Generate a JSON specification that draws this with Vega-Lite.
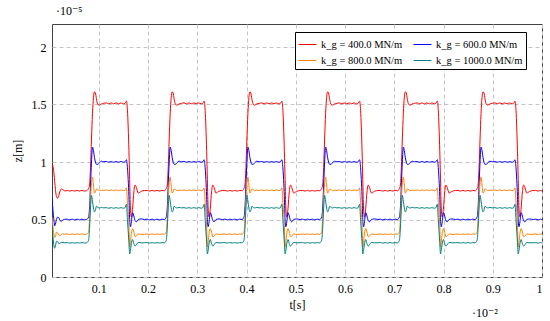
{
"$schema": "https://vega.github.io/schema/vega-lite/v6.json",
"width": 490, "height": 253,
"autosize": {"type": "none"},
"padding": {"left": 52, "top": 24, "right": 8, "bottom": 44},
"background": "white",
"config": {"font": "'Liberation Serif', 'DejaVu Serif', serif", "view": {"stroke": "#404040", "strokeWidth": 1}},
"title": {"text": "·10⁻⁵", "anchor": "start", "frame": "group", "fontSize": 12, "fontWeight": "normal", "font": "'Liberation Serif', 'DejaVu Serif', serif", "offset": 6, "dx": 4},
"datasets": {
"sim": [
{"t":0.05e-3,"400":0.99e-5,"600":0.68e-5,"800":0.52e-5,"1000":0.45e-5},
{"t":0.07e-3,"400":0.96e-5,"600":0.58e-5,"800":0.44e-5,"1000":0.35e-5},
{"t":0.09e-3,"400":0.90e-5,"600":0.49e-5,"800":0.37e-5,"1000":0.27e-5},
{"t":0.105e-3,"400":0.83e-5,"600":0.445e-5,"800":0.345e-5,"1000":0.25e-5},
{"t":0.12e-3,"400":0.76e-5,"600":0.46e-5,"800":0.35e-5,"1000":0.27e-5},
{"t":0.14e-3,"400":0.70e-5,"600":0.50e-5,"800":0.39e-5,"1000":0.31e-5},
{"t":0.16e-3,"400":0.685e-5,"600":0.52e-5,"800":0.385e-5,"1000":0.31e-5},
{"t":0.19e-3,"400":0.71e-5,"600":0.515e-5,"800":0.365e-5,"1000":0.29e-5},
{"t":0.215e-3,"400":0.75e-5,"600":0.49e-5,"800":0.36e-5,"1000":0.295e-5},
{"t":0.24e-3,"400":0.765e-5,"600":0.485e-5,"800":0.37e-5,"1000":0.30e-5},
{"t":0.27e-3,"400":0.76e-5,"600":0.495e-5,"800":0.375e-5,"1000":0.30e-5},
{"t":0.31e-3,"400":0.748e-5,"600":0.502e-5,"800":0.372e-5,"1000":0.297e-5},
{"t":0.36e-3,"400":0.753e-5,"600":0.503e-5,"800":0.374e-5,"1000":0.299e-5},
{"t":0.41e-3,"400":0.747e-5,"600":0.497e-5,"800":0.37e-5,"1000":0.295e-5},
{"t":0.46e-3,"400":0.753e-5,"600":0.503e-5,"800":0.374e-5,"1000":0.299e-5},
{"t":0.51e-3,"400":0.747e-5,"600":0.497e-5,"800":0.37e-5,"1000":0.295e-5},
{"t":0.56e-3,"400":0.753e-5,"600":0.503e-5,"800":0.374e-5,"1000":0.299e-5},
{"t":0.61e-3,"400":0.747e-5,"600":0.497e-5,"800":0.37e-5,"1000":0.295e-5},
{"t":0.66e-3,"400":0.753e-5,"600":0.503e-5,"800":0.374e-5,"1000":0.299e-5},
{"t":0.71e-3,"400":0.747e-5,"600":0.497e-5,"800":0.37e-5,"1000":0.295e-5},

{"t":0.752e-3,"400":0.75e-5,"600":0.5e-5,"800":0.372e-5,"1000":0.297e-5},
{"t":0.792e-3,"400":0.77e-5,"600":0.52e-5,"800":0.39e-5,"1000":0.32e-5},
{"t":0.812e-3,"400":0.8e-5,"600":0.6e-5,"800":0.5e-5,"1000":0.42e-5},
{"t":0.832e-3,"400":0.95e-5,"600":0.8e-5,"800":0.68e-5,"1000":0.6e-5},
{"t":0.852e-3,"400":1.2e-5,"600":1.0e-5,"800":0.82e-5,"1000":0.71e-5},
{"t":0.872e-3,"400":1.42e-5,"600":1.13e-5,"800":0.87e-5,"1000":0.66e-5},
{"t":0.892e-3,"400":1.56e-5,"600":1.1e-5,"800":0.8e-5,"1000":0.6e-5},
{"t":0.912e-3,"400":1.61e-5,"600":1.04e-5,"800":0.73e-5,"1000":0.566e-5},
{"t":0.932e-3,"400":1.6e-5,"600":1.0e-5,"800":0.74e-5,"1000":0.58e-5},
{"t":0.952e-3,"400":1.55e-5,"600":0.98e-5,"800":0.765e-5,"1000":0.615e-5},
{"t":0.982e-3,"400":1.5e-5,"600":0.98e-5,"800":0.76e-5,"1000":0.605e-5},
{"t":1.012e-3,"400":1.495e-5,"600":0.995e-5,"800":0.75e-5,"1000":0.6e-5},
{"t":1.052e-3,"400":1.505e-5,"600":1.007e-5,"800":0.755e-5,"1000":0.605e-5},
{"t":1.102e-3,"400":1.51e-5,"600":1.002e-5,"800":0.753e-5,"1000":0.601e-5},
{"t":1.152e-3,"400":1.514e-5,"600":1.004e-5,"800":0.757e-5,"1000":0.603e-5},
{"t":1.202e-3,"400":1.506e-5,"600":0.998e-5,"800":0.751e-5,"1000":0.598e-5},
{"t":1.252e-3,"400":1.514e-5,"600":1.004e-5,"800":0.757e-5,"1000":0.603e-5},
{"t":1.302e-3,"400":1.506e-5,"600":0.998e-5,"800":0.751e-5,"1000":0.598e-5},
{"t":1.352e-3,"400":1.514e-5,"600":1.004e-5,"800":0.757e-5,"1000":0.603e-5},
{"t":1.402e-3,"400":1.506e-5,"600":0.998e-5,"800":0.751e-5,"1000":0.598e-5},
{"t":1.452e-3,"400":1.514e-5,"600":1.004e-5,"800":0.757e-5,"1000":0.603e-5},
{"t":1.502e-3,"400":1.506e-5,"600":0.998e-5,"800":0.751e-5,"1000":0.598e-5},
{"t":1.532e-3,"400":1.51e-5,"600":1.002e-5,"800":0.754e-5,"1000":0.602e-5},
{"t":1.562e-3,"400":1.53e-5,"600":1.02e-5,"800":0.775e-5,"1000":0.633e-5},
{"t":1.582e-3,"400":1.45e-5,"600":0.95e-5,"800":0.65e-5,"1000":0.5e-5},
{"t":1.612e-3,"400":1.1e-5,"600":0.7e-5,"800":0.45e-5,"1000":0.3e-5},
{"t":1.627e-3,"400":0.85e-5,"600":0.5e-5,"800":0.26e-5,"1000":0.2e-5},
{"t":1.642e-3,"400":0.6e-5,"600":0.436e-5,"800":0.3e-5,"1000":0.23e-5},
{"t":1.662e-3,"400":0.52e-5,"600":0.48e-5,"800":0.38e-5,"1000":0.29e-5},
{"t":1.687e-3,"400":0.6e-5,"600":0.56e-5,"800":0.42e-5,"1000":0.326e-5},
{"t":1.712e-3,"400":0.74e-5,"600":0.53e-5,"800":0.39e-5,"1000":0.29e-5},
{"t":1.737e-3,"400":0.8e-5,"600":0.49e-5,"800":0.35e-5,"1000":0.268e-5},
{"t":1.762e-3,"400":0.78e-5,"600":0.48e-5,"800":0.355e-5,"1000":0.28e-5},
{"t":1.802e-3,"400":0.73e-5,"600":0.5e-5,"800":0.375e-5,"1000":0.3e-5},
{"t":1.862e-3,"400":0.745e-5,"600":0.505e-5,"800":0.37e-5,"1000":0.297e-5},
{"t":1.932e-3,"400":0.752e-5,"600":0.5e-5,"800":0.372e-5,"1000":0.298e-5},
{"t":1.982e-3,"400":0.753e-5,"600":0.503e-5,"800":0.374e-5,"1000":0.299e-5},
{"t":2.032e-3,"400":0.747e-5,"600":0.497e-5,"800":0.37e-5,"1000":0.295e-5},
{"t":2.082e-3,"400":0.753e-5,"600":0.503e-5,"800":0.374e-5,"1000":0.299e-5},
{"t":2.132e-3,"400":0.747e-5,"600":0.497e-5,"800":0.37e-5,"1000":0.295e-5},
{"t":2.182e-3,"400":0.753e-5,"600":0.503e-5,"800":0.374e-5,"1000":0.299e-5},
{"t":2.232e-3,"400":0.747e-5,"600":0.497e-5,"800":0.37e-5,"1000":0.295e-5},
{"t":2.282e-3,"400":0.753e-5,"600":0.503e-5,"800":0.374e-5,"1000":0.299e-5},

{"t":2.33e-3,"400":0.75e-5,"600":0.5e-5,"800":0.372e-5,"1000":0.297e-5},
{"t":2.37e-3,"400":0.77e-5,"600":0.52e-5,"800":0.39e-5,"1000":0.32e-5},
{"t":2.39e-3,"400":0.8e-5,"600":0.6e-5,"800":0.5e-5,"1000":0.42e-5},
{"t":2.41e-3,"400":0.95e-5,"600":0.8e-5,"800":0.68e-5,"1000":0.6e-5},
{"t":2.43e-3,"400":1.2e-5,"600":1.0e-5,"800":0.82e-5,"1000":0.71e-5},
{"t":2.45e-3,"400":1.42e-5,"600":1.13e-5,"800":0.87e-5,"1000":0.66e-5},
{"t":2.47e-3,"400":1.56e-5,"600":1.1e-5,"800":0.8e-5,"1000":0.6e-5},
{"t":2.49e-3,"400":1.61e-5,"600":1.04e-5,"800":0.73e-5,"1000":0.566e-5},
{"t":2.51e-3,"400":1.6e-5,"600":1.0e-5,"800":0.74e-5,"1000":0.58e-5},
{"t":2.53e-3,"400":1.55e-5,"600":0.98e-5,"800":0.765e-5,"1000":0.615e-5},
{"t":2.56e-3,"400":1.5e-5,"600":0.98e-5,"800":0.76e-5,"1000":0.605e-5},
{"t":2.59e-3,"400":1.495e-5,"600":0.995e-5,"800":0.75e-5,"1000":0.6e-5},
{"t":2.63e-3,"400":1.505e-5,"600":1.007e-5,"800":0.755e-5,"1000":0.605e-5},
{"t":2.68e-3,"400":1.51e-5,"600":1.002e-5,"800":0.753e-5,"1000":0.601e-5},
{"t":2.73e-3,"400":1.514e-5,"600":1.004e-5,"800":0.757e-5,"1000":0.603e-5},
{"t":2.78e-3,"400":1.506e-5,"600":0.998e-5,"800":0.751e-5,"1000":0.598e-5},
{"t":2.83e-3,"400":1.514e-5,"600":1.004e-5,"800":0.757e-5,"1000":0.603e-5},
{"t":2.88e-3,"400":1.506e-5,"600":0.998e-5,"800":0.751e-5,"1000":0.598e-5},
{"t":2.93e-3,"400":1.514e-5,"600":1.004e-5,"800":0.757e-5,"1000":0.603e-5},
{"t":2.98e-3,"400":1.506e-5,"600":0.998e-5,"800":0.751e-5,"1000":0.598e-5},
{"t":3.03e-3,"400":1.514e-5,"600":1.004e-5,"800":0.757e-5,"1000":0.603e-5},
{"t":3.08e-3,"400":1.506e-5,"600":0.998e-5,"800":0.751e-5,"1000":0.598e-5},
{"t":3.11e-3,"400":1.51e-5,"600":1.002e-5,"800":0.754e-5,"1000":0.602e-5},
{"t":3.14e-3,"400":1.53e-5,"600":1.02e-5,"800":0.775e-5,"1000":0.633e-5},
{"t":3.16e-3,"400":1.45e-5,"600":0.95e-5,"800":0.65e-5,"1000":0.5e-5},
{"t":3.19e-3,"400":1.1e-5,"600":0.7e-5,"800":0.45e-5,"1000":0.3e-5},
{"t":3.205e-3,"400":0.85e-5,"600":0.5e-5,"800":0.26e-5,"1000":0.2e-5},
{"t":3.22e-3,"400":0.6e-5,"600":0.436e-5,"800":0.3e-5,"1000":0.23e-5},
{"t":3.24e-3,"400":0.52e-5,"600":0.48e-5,"800":0.38e-5,"1000":0.29e-5},
{"t":3.265e-3,"400":0.6e-5,"600":0.56e-5,"800":0.42e-5,"1000":0.326e-5},
{"t":3.29e-3,"400":0.74e-5,"600":0.53e-5,"800":0.39e-5,"1000":0.29e-5},
{"t":3.315e-3,"400":0.8e-5,"600":0.49e-5,"800":0.35e-5,"1000":0.268e-5},
{"t":3.34e-3,"400":0.78e-5,"600":0.48e-5,"800":0.355e-5,"1000":0.28e-5},
{"t":3.38e-3,"400":0.73e-5,"600":0.5e-5,"800":0.375e-5,"1000":0.3e-5},
{"t":3.44e-3,"400":0.745e-5,"600":0.505e-5,"800":0.37e-5,"1000":0.297e-5},
{"t":3.51e-3,"400":0.752e-5,"600":0.5e-5,"800":0.372e-5,"1000":0.298e-5},
{"t":3.56e-3,"400":0.753e-5,"600":0.503e-5,"800":0.374e-5,"1000":0.299e-5},
{"t":3.61e-3,"400":0.747e-5,"600":0.497e-5,"800":0.37e-5,"1000":0.295e-5},
{"t":3.66e-3,"400":0.753e-5,"600":0.503e-5,"800":0.374e-5,"1000":0.299e-5},
{"t":3.71e-3,"400":0.747e-5,"600":0.497e-5,"800":0.37e-5,"1000":0.295e-5},
{"t":3.76e-3,"400":0.753e-5,"600":0.503e-5,"800":0.374e-5,"1000":0.299e-5},
{"t":3.81e-3,"400":0.747e-5,"600":0.497e-5,"800":0.37e-5,"1000":0.295e-5},
{"t":3.86e-3,"400":0.753e-5,"600":0.503e-5,"800":0.374e-5,"1000":0.299e-5},

{"t":3.908e-3,"400":0.75e-5,"600":0.5e-5,"800":0.372e-5,"1000":0.297e-5},
{"t":3.948e-3,"400":0.77e-5,"600":0.52e-5,"800":0.39e-5,"1000":0.32e-5},
{"t":3.968e-3,"400":0.8e-5,"600":0.6e-5,"800":0.5e-5,"1000":0.42e-5},
{"t":3.988e-3,"400":0.95e-5,"600":0.8e-5,"800":0.68e-5,"1000":0.6e-5},
{"t":4.008e-3,"400":1.2e-5,"600":1.0e-5,"800":0.82e-5,"1000":0.71e-5},
{"t":4.028e-3,"400":1.42e-5,"600":1.13e-5,"800":0.87e-5,"1000":0.66e-5},
{"t":4.048e-3,"400":1.56e-5,"600":1.1e-5,"800":0.8e-5,"1000":0.6e-5},
{"t":4.068e-3,"400":1.61e-5,"600":1.04e-5,"800":0.73e-5,"1000":0.566e-5},
{"t":4.088e-3,"400":1.6e-5,"600":1.0e-5,"800":0.74e-5,"1000":0.58e-5},
{"t":4.108e-3,"400":1.55e-5,"600":0.98e-5,"800":0.765e-5,"1000":0.615e-5},
{"t":4.138e-3,"400":1.5e-5,"600":0.98e-5,"800":0.76e-5,"1000":0.605e-5},
{"t":4.168e-3,"400":1.495e-5,"600":0.995e-5,"800":0.75e-5,"1000":0.6e-5},
{"t":4.208e-3,"400":1.505e-5,"600":1.007e-5,"800":0.755e-5,"1000":0.605e-5},
{"t":4.258e-3,"400":1.51e-5,"600":1.002e-5,"800":0.753e-5,"1000":0.601e-5},
{"t":4.308e-3,"400":1.514e-5,"600":1.004e-5,"800":0.757e-5,"1000":0.603e-5},
{"t":4.358e-3,"400":1.506e-5,"600":0.998e-5,"800":0.751e-5,"1000":0.598e-5},
{"t":4.408e-3,"400":1.514e-5,"600":1.004e-5,"800":0.757e-5,"1000":0.603e-5},
{"t":4.458e-3,"400":1.506e-5,"600":0.998e-5,"800":0.751e-5,"1000":0.598e-5},
{"t":4.508e-3,"400":1.514e-5,"600":1.004e-5,"800":0.757e-5,"1000":0.603e-5},
{"t":4.558e-3,"400":1.506e-5,"600":0.998e-5,"800":0.751e-5,"1000":0.598e-5},
{"t":4.608e-3,"400":1.514e-5,"600":1.004e-5,"800":0.757e-5,"1000":0.603e-5},
{"t":4.658e-3,"400":1.506e-5,"600":0.998e-5,"800":0.751e-5,"1000":0.598e-5},
{"t":4.688e-3,"400":1.51e-5,"600":1.002e-5,"800":0.754e-5,"1000":0.602e-5},
{"t":4.718e-3,"400":1.53e-5,"600":1.02e-5,"800":0.775e-5,"1000":0.633e-5},
{"t":4.738e-3,"400":1.45e-5,"600":0.95e-5,"800":0.65e-5,"1000":0.5e-5},
{"t":4.768e-3,"400":1.1e-5,"600":0.7e-5,"800":0.45e-5,"1000":0.3e-5},
{"t":4.783e-3,"400":0.85e-5,"600":0.5e-5,"800":0.26e-5,"1000":0.2e-5},
{"t":4.798e-3,"400":0.6e-5,"600":0.436e-5,"800":0.3e-5,"1000":0.23e-5},
{"t":4.818e-3,"400":0.52e-5,"600":0.48e-5,"800":0.38e-5,"1000":0.29e-5},
{"t":4.843e-3,"400":0.6e-5,"600":0.56e-5,"800":0.42e-5,"1000":0.326e-5},
{"t":4.868e-3,"400":0.74e-5,"600":0.53e-5,"800":0.39e-5,"1000":0.29e-5},
{"t":4.893e-3,"400":0.8e-5,"600":0.49e-5,"800":0.35e-5,"1000":0.268e-5},
{"t":4.918e-3,"400":0.78e-5,"600":0.48e-5,"800":0.355e-5,"1000":0.28e-5},
{"t":4.958e-3,"400":0.73e-5,"600":0.5e-5,"800":0.375e-5,"1000":0.3e-5},
{"t":5.018e-3,"400":0.745e-5,"600":0.505e-5,"800":0.37e-5,"1000":0.297e-5},
{"t":5.088e-3,"400":0.752e-5,"600":0.5e-5,"800":0.372e-5,"1000":0.298e-5},
{"t":5.138e-3,"400":0.753e-5,"600":0.503e-5,"800":0.374e-5,"1000":0.299e-5},
{"t":5.188e-3,"400":0.747e-5,"600":0.497e-5,"800":0.37e-5,"1000":0.295e-5},
{"t":5.238e-3,"400":0.753e-5,"600":0.503e-5,"800":0.374e-5,"1000":0.299e-5},
{"t":5.288e-3,"400":0.747e-5,"600":0.497e-5,"800":0.37e-5,"1000":0.295e-5},
{"t":5.338e-3,"400":0.753e-5,"600":0.503e-5,"800":0.374e-5,"1000":0.299e-5},
{"t":5.388e-3,"400":0.747e-5,"600":0.497e-5,"800":0.37e-5,"1000":0.295e-5},
{"t":5.438e-3,"400":0.753e-5,"600":0.503e-5,"800":0.374e-5,"1000":0.299e-5},

{"t":5.486e-3,"400":0.75e-5,"600":0.5e-5,"800":0.372e-5,"1000":0.297e-5},
{"t":5.526e-3,"400":0.77e-5,"600":0.52e-5,"800":0.39e-5,"1000":0.32e-5},
{"t":5.546e-3,"400":0.8e-5,"600":0.6e-5,"800":0.5e-5,"1000":0.42e-5},
{"t":5.566e-3,"400":0.95e-5,"600":0.8e-5,"800":0.68e-5,"1000":0.6e-5},
{"t":5.586e-3,"400":1.2e-5,"600":1.0e-5,"800":0.82e-5,"1000":0.71e-5},
{"t":5.606e-3,"400":1.42e-5,"600":1.13e-5,"800":0.87e-5,"1000":0.66e-5},
{"t":5.626e-3,"400":1.56e-5,"600":1.1e-5,"800":0.8e-5,"1000":0.6e-5},
{"t":5.646e-3,"400":1.61e-5,"600":1.04e-5,"800":0.73e-5,"1000":0.566e-5},
{"t":5.666e-3,"400":1.6e-5,"600":1.0e-5,"800":0.74e-5,"1000":0.58e-5},
{"t":5.686e-3,"400":1.55e-5,"600":0.98e-5,"800":0.765e-5,"1000":0.615e-5},
{"t":5.716e-3,"400":1.5e-5,"600":0.98e-5,"800":0.76e-5,"1000":0.605e-5},
{"t":5.746e-3,"400":1.495e-5,"600":0.995e-5,"800":0.75e-5,"1000":0.6e-5},
{"t":5.786e-3,"400":1.505e-5,"600":1.007e-5,"800":0.755e-5,"1000":0.605e-5},
{"t":5.836e-3,"400":1.51e-5,"600":1.002e-5,"800":0.753e-5,"1000":0.601e-5},
{"t":5.886e-3,"400":1.514e-5,"600":1.004e-5,"800":0.757e-5,"1000":0.603e-5},
{"t":5.936e-3,"400":1.506e-5,"600":0.998e-5,"800":0.751e-5,"1000":0.598e-5},
{"t":5.986e-3,"400":1.514e-5,"600":1.004e-5,"800":0.757e-5,"1000":0.603e-5},
{"t":6.036e-3,"400":1.506e-5,"600":0.998e-5,"800":0.751e-5,"1000":0.598e-5},
{"t":6.086e-3,"400":1.514e-5,"600":1.004e-5,"800":0.757e-5,"1000":0.603e-5},
{"t":6.136e-3,"400":1.506e-5,"600":0.998e-5,"800":0.751e-5,"1000":0.598e-5},
{"t":6.186e-3,"400":1.514e-5,"600":1.004e-5,"800":0.757e-5,"1000":0.603e-5},
{"t":6.236e-3,"400":1.506e-5,"600":0.998e-5,"800":0.751e-5,"1000":0.598e-5},
{"t":6.266e-3,"400":1.51e-5,"600":1.002e-5,"800":0.754e-5,"1000":0.602e-5},
{"t":6.296e-3,"400":1.53e-5,"600":1.02e-5,"800":0.775e-5,"1000":0.633e-5},
{"t":6.316e-3,"400":1.45e-5,"600":0.95e-5,"800":0.65e-5,"1000":0.5e-5},
{"t":6.346e-3,"400":1.1e-5,"600":0.7e-5,"800":0.45e-5,"1000":0.3e-5},
{"t":6.361e-3,"400":0.85e-5,"600":0.5e-5,"800":0.26e-5,"1000":0.2e-5},
{"t":6.376e-3,"400":0.6e-5,"600":0.436e-5,"800":0.3e-5,"1000":0.23e-5},
{"t":6.396e-3,"400":0.52e-5,"600":0.48e-5,"800":0.38e-5,"1000":0.29e-5},
{"t":6.421e-3,"400":0.6e-5,"600":0.56e-5,"800":0.42e-5,"1000":0.326e-5},
{"t":6.446e-3,"400":0.74e-5,"600":0.53e-5,"800":0.39e-5,"1000":0.29e-5},
{"t":6.471e-3,"400":0.8e-5,"600":0.49e-5,"800":0.35e-5,"1000":0.268e-5},
{"t":6.496e-3,"400":0.78e-5,"600":0.48e-5,"800":0.355e-5,"1000":0.28e-5},
{"t":6.536e-3,"400":0.73e-5,"600":0.5e-5,"800":0.375e-5,"1000":0.3e-5},
{"t":6.596e-3,"400":0.745e-5,"600":0.505e-5,"800":0.37e-5,"1000":0.297e-5},
{"t":6.666e-3,"400":0.752e-5,"600":0.5e-5,"800":0.372e-5,"1000":0.298e-5},
{"t":6.716e-3,"400":0.753e-5,"600":0.503e-5,"800":0.374e-5,"1000":0.299e-5},
{"t":6.766e-3,"400":0.747e-5,"600":0.497e-5,"800":0.37e-5,"1000":0.295e-5},
{"t":6.816e-3,"400":0.753e-5,"600":0.503e-5,"800":0.374e-5,"1000":0.299e-5},
{"t":6.866e-3,"400":0.747e-5,"600":0.497e-5,"800":0.37e-5,"1000":0.295e-5},
{"t":6.916e-3,"400":0.753e-5,"600":0.503e-5,"800":0.374e-5,"1000":0.299e-5},
{"t":6.966e-3,"400":0.747e-5,"600":0.497e-5,"800":0.37e-5,"1000":0.295e-5},
{"t":7.016e-3,"400":0.753e-5,"600":0.503e-5,"800":0.374e-5,"1000":0.299e-5},

{"t":7.064e-3,"400":0.75e-5,"600":0.5e-5,"800":0.372e-5,"1000":0.297e-5},
{"t":7.104e-3,"400":0.77e-5,"600":0.52e-5,"800":0.39e-5,"1000":0.32e-5},
{"t":7.124e-3,"400":0.8e-5,"600":0.6e-5,"800":0.5e-5,"1000":0.42e-5},
{"t":7.144e-3,"400":0.95e-5,"600":0.8e-5,"800":0.68e-5,"1000":0.6e-5},
{"t":7.164e-3,"400":1.2e-5,"600":1.0e-5,"800":0.82e-5,"1000":0.71e-5},
{"t":7.184e-3,"400":1.42e-5,"600":1.13e-5,"800":0.87e-5,"1000":0.66e-5},
{"t":7.204e-3,"400":1.56e-5,"600":1.1e-5,"800":0.8e-5,"1000":0.6e-5},
{"t":7.224e-3,"400":1.61e-5,"600":1.04e-5,"800":0.73e-5,"1000":0.566e-5},
{"t":7.244e-3,"400":1.6e-5,"600":1.0e-5,"800":0.74e-5,"1000":0.58e-5},
{"t":7.264e-3,"400":1.55e-5,"600":0.98e-5,"800":0.765e-5,"1000":0.615e-5},
{"t":7.294e-3,"400":1.5e-5,"600":0.98e-5,"800":0.76e-5,"1000":0.605e-5},
{"t":7.324e-3,"400":1.495e-5,"600":0.995e-5,"800":0.75e-5,"1000":0.6e-5},
{"t":7.364e-3,"400":1.505e-5,"600":1.007e-5,"800":0.755e-5,"1000":0.605e-5},
{"t":7.414e-3,"400":1.51e-5,"600":1.002e-5,"800":0.753e-5,"1000":0.601e-5},
{"t":7.464e-3,"400":1.514e-5,"600":1.004e-5,"800":0.757e-5,"1000":0.603e-5},
{"t":7.514e-3,"400":1.506e-5,"600":0.998e-5,"800":0.751e-5,"1000":0.598e-5},
{"t":7.564e-3,"400":1.514e-5,"600":1.004e-5,"800":0.757e-5,"1000":0.603e-5},
{"t":7.614e-3,"400":1.506e-5,"600":0.998e-5,"800":0.751e-5,"1000":0.598e-5},
{"t":7.664e-3,"400":1.514e-5,"600":1.004e-5,"800":0.757e-5,"1000":0.603e-5},
{"t":7.714e-3,"400":1.506e-5,"600":0.998e-5,"800":0.751e-5,"1000":0.598e-5},
{"t":7.764e-3,"400":1.514e-5,"600":1.004e-5,"800":0.757e-5,"1000":0.603e-5},
{"t":7.814e-3,"400":1.506e-5,"600":0.998e-5,"800":0.751e-5,"1000":0.598e-5},
{"t":7.844e-3,"400":1.51e-5,"600":1.002e-5,"800":0.754e-5,"1000":0.602e-5},
{"t":7.874e-3,"400":1.53e-5,"600":1.02e-5,"800":0.775e-5,"1000":0.633e-5},
{"t":7.894e-3,"400":1.45e-5,"600":0.95e-5,"800":0.65e-5,"1000":0.5e-5},
{"t":7.924e-3,"400":1.1e-5,"600":0.7e-5,"800":0.45e-5,"1000":0.3e-5},
{"t":7.939e-3,"400":0.85e-5,"600":0.5e-5,"800":0.26e-5,"1000":0.2e-5},
{"t":7.954e-3,"400":0.6e-5,"600":0.436e-5,"800":0.3e-5,"1000":0.23e-5},
{"t":7.974e-3,"400":0.52e-5,"600":0.48e-5,"800":0.38e-5,"1000":0.29e-5},
{"t":7.999e-3,"400":0.6e-5,"600":0.56e-5,"800":0.42e-5,"1000":0.326e-5},
{"t":8.024e-3,"400":0.74e-5,"600":0.53e-5,"800":0.39e-5,"1000":0.29e-5},
{"t":8.049e-3,"400":0.8e-5,"600":0.49e-5,"800":0.35e-5,"1000":0.268e-5},
{"t":8.074e-3,"400":0.78e-5,"600":0.48e-5,"800":0.355e-5,"1000":0.28e-5},
{"t":8.114e-3,"400":0.73e-5,"600":0.5e-5,"800":0.375e-5,"1000":0.3e-5},
{"t":8.174e-3,"400":0.745e-5,"600":0.505e-5,"800":0.37e-5,"1000":0.297e-5},
{"t":8.244e-3,"400":0.752e-5,"600":0.5e-5,"800":0.372e-5,"1000":0.298e-5},
{"t":8.294e-3,"400":0.753e-5,"600":0.503e-5,"800":0.374e-5,"1000":0.299e-5},
{"t":8.344e-3,"400":0.747e-5,"600":0.497e-5,"800":0.37e-5,"1000":0.295e-5},
{"t":8.394e-3,"400":0.753e-5,"600":0.503e-5,"800":0.374e-5,"1000":0.299e-5},
{"t":8.444e-3,"400":0.747e-5,"600":0.497e-5,"800":0.37e-5,"1000":0.295e-5},
{"t":8.494e-3,"400":0.753e-5,"600":0.503e-5,"800":0.374e-5,"1000":0.299e-5},
{"t":8.544e-3,"400":0.747e-5,"600":0.497e-5,"800":0.37e-5,"1000":0.295e-5},
{"t":8.594e-3,"400":0.753e-5,"600":0.503e-5,"800":0.374e-5,"1000":0.299e-5},

{"t":8.642e-3,"400":0.75e-5,"600":0.5e-5,"800":0.372e-5,"1000":0.297e-5},
{"t":8.682e-3,"400":0.77e-5,"600":0.52e-5,"800":0.39e-5,"1000":0.32e-5},
{"t":8.702e-3,"400":0.8e-5,"600":0.6e-5,"800":0.5e-5,"1000":0.42e-5},
{"t":8.722e-3,"400":0.95e-5,"600":0.8e-5,"800":0.68e-5,"1000":0.6e-5},
{"t":8.742e-3,"400":1.2e-5,"600":1.0e-5,"800":0.82e-5,"1000":0.71e-5},
{"t":8.762e-3,"400":1.42e-5,"600":1.13e-5,"800":0.87e-5,"1000":0.66e-5},
{"t":8.782e-3,"400":1.56e-5,"600":1.1e-5,"800":0.8e-5,"1000":0.6e-5},
{"t":8.802e-3,"400":1.61e-5,"600":1.04e-5,"800":0.73e-5,"1000":0.566e-5},
{"t":8.822e-3,"400":1.6e-5,"600":1.0e-5,"800":0.74e-5,"1000":0.58e-5},
{"t":8.842e-3,"400":1.55e-5,"600":0.98e-5,"800":0.765e-5,"1000":0.615e-5},
{"t":8.872e-3,"400":1.5e-5,"600":0.98e-5,"800":0.76e-5,"1000":0.605e-5},
{"t":8.902e-3,"400":1.495e-5,"600":0.995e-5,"800":0.75e-5,"1000":0.6e-5},
{"t":8.942e-3,"400":1.505e-5,"600":1.007e-5,"800":0.755e-5,"1000":0.605e-5},
{"t":8.992e-3,"400":1.51e-5,"600":1.002e-5,"800":0.753e-5,"1000":0.601e-5},
{"t":9.042e-3,"400":1.514e-5,"600":1.004e-5,"800":0.757e-5,"1000":0.603e-5},
{"t":9.092e-3,"400":1.506e-5,"600":0.998e-5,"800":0.751e-5,"1000":0.598e-5},
{"t":9.142e-3,"400":1.514e-5,"600":1.004e-5,"800":0.757e-5,"1000":0.603e-5},
{"t":9.192e-3,"400":1.506e-5,"600":0.998e-5,"800":0.751e-5,"1000":0.598e-5},
{"t":9.242e-3,"400":1.514e-5,"600":1.004e-5,"800":0.757e-5,"1000":0.603e-5},
{"t":9.292e-3,"400":1.506e-5,"600":0.998e-5,"800":0.751e-5,"1000":0.598e-5},
{"t":9.342e-3,"400":1.514e-5,"600":1.004e-5,"800":0.757e-5,"1000":0.603e-5},
{"t":9.392e-3,"400":1.506e-5,"600":0.998e-5,"800":0.751e-5,"1000":0.598e-5},
{"t":9.422e-3,"400":1.51e-5,"600":1.002e-5,"800":0.754e-5,"1000":0.602e-5},
{"t":9.452e-3,"400":1.53e-5,"600":1.02e-5,"800":0.775e-5,"1000":0.633e-5},
{"t":9.472e-3,"400":1.45e-5,"600":0.95e-5,"800":0.65e-5,"1000":0.5e-5},
{"t":9.502e-3,"400":1.1e-5,"600":0.7e-5,"800":0.45e-5,"1000":0.3e-5},
{"t":9.517e-3,"400":0.85e-5,"600":0.5e-5,"800":0.26e-5,"1000":0.2e-5},
{"t":9.532e-3,"400":0.6e-5,"600":0.436e-5,"800":0.3e-5,"1000":0.23e-5},
{"t":9.552e-3,"400":0.52e-5,"600":0.48e-5,"800":0.38e-5,"1000":0.29e-5},
{"t":9.577e-3,"400":0.6e-5,"600":0.56e-5,"800":0.42e-5,"1000":0.326e-5},
{"t":9.602e-3,"400":0.74e-5,"600":0.53e-5,"800":0.39e-5,"1000":0.29e-5},
{"t":9.627e-3,"400":0.8e-5,"600":0.49e-5,"800":0.35e-5,"1000":0.268e-5},
{"t":9.652e-3,"400":0.78e-5,"600":0.48e-5,"800":0.355e-5,"1000":0.28e-5},
{"t":9.692e-3,"400":0.73e-5,"600":0.5e-5,"800":0.375e-5,"1000":0.3e-5},
{"t":9.752e-3,"400":0.745e-5,"600":0.505e-5,"800":0.37e-5,"1000":0.297e-5},
{"t":9.822e-3,"400":0.752e-5,"600":0.5e-5,"800":0.372e-5,"1000":0.298e-5},
{"t":9.872e-3,"400":0.753e-5,"600":0.503e-5,"800":0.374e-5,"1000":0.299e-5},
{"t":9.922e-3,"400":0.747e-5,"600":0.497e-5,"800":0.37e-5,"1000":0.295e-5},
{"t":9.972e-3,"400":0.753e-5,"600":0.503e-5,"800":0.374e-5,"1000":0.299e-5},
{"t":10.0e-3,"400":0.747e-5,"600":0.497e-5,"800":0.37e-5,"1000":0.295e-5}
]
},
"layer": [
{
"data": {"name": "sim"},
"transform": [{"fold": ["400", "600", "800", "1000"], "as": ["k", "z"]}],
"mark": {"type": "line", "strokeWidth": 1, "interpolate": "monotone", "clip": true},
"encoding": {
"x": {"field": "t", "type": "quantitative",
"scale": {"domain": [0.00005, 0.01], "nice": false, "zero": false},
"axis": {"title": "t[s]", "values": [0.001, 0.002, 0.003, 0.004, 0.005, 0.006, 0.007, 0.008, 0.009, 0.01],
"labelExpr": "format(datum.value*100, '.1~f')", "grid": true, "gridDash": [4, 3], "gridColor": "#c4c4c4", "gridWidth": 1,
"ticks": false, "domain": false, "labelFontSize": 12, "labelColor": "#000", "labelPadding": 6,
"titleFontSize": 12, "titleFontWeight": "normal", "titleColor": "#000", "titlePadding": 5}},
"y": {"field": "z", "type": "quantitative",
"scale": {"domain": [0, 2.2e-5], "nice": false},
"axis": {"title": "z[m]", "values": [0, 0.5e-5, 1e-5, 1.5e-5, 2e-5],
"labelExpr": "format(datum.value*1e5, '.1~f')", "grid": true, "gridDash": [4, 3], "gridColor": "#c4c4c4", "gridWidth": 1,
"ticks": false, "domain": false, "labelFontSize": 12, "labelColor": "#000", "labelPadding": 6,
"titleFontSize": 12, "titleFontWeight": "normal", "titleColor": "#000", "titlePadding": 7}},
"color": {"field": "k", "type": "nominal",
"scale": {"domain": ["400", "600", "800", "1000"], "range": ["#ff0000", "#0000ff", "#ff8000", "#008080"]},
"legend": {"title": null, "orient": "none", "legendX": 243, "legendY": 8, "columns": 2, "direction": "horizontal",
"symbolType": "stroke", "symbolSize": 324, "symbolStrokeWidth": 1, "symbolOffset": 0,
"labelFontSize": 10.5, "labelColor": "#000", "labelLimit": 0, "labelOffset": 4,
"labelExpr": "'k_g = ' + datum.label + '.0 MN/m'",
"strokeColor": "#000", "fillColor": "white", "padding": 3, "rowPadding": 1, "columnPadding": 8}}
}
},
{
"data": {"values": [{"note": "·10⁻²"}]},
"mark": {"type": "text", "fontSize": 12, "color": "#000", "align": "center", "baseline": "middle"},
"encoding": {
"x": {"datum": 0.00884},
"y": {"datum": -0.31e-5},
"text": {"field": "note"}
}
}
]
}
